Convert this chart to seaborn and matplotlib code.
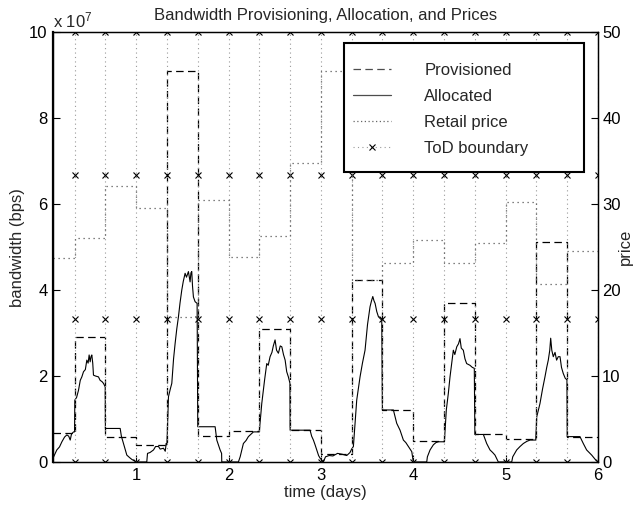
import numpy as np
import pandas as pd
import seaborn as sns
import matplotlib.pyplot as plt
from matplotlib.lines import Line2D
from matplotlib.patches import Rectangle

# time-of-day periods (8 hours each), start of each period in days
period_start = [0.1, 1/3, 2/3, 1.0, 4/3, 5/3, 2.0, 7/3, 8/3, 3.0,
                10/3, 11/3, 4.0, 13/3, 14/3, 5.0, 16/3, 17/3]
tod_boundary = [1/3, 2/3, 1.0, 4/3, 5/3, 2.0, 7/3, 8/3, 3.0,
                10/3, 11/3, 4.0, 13/3, 14/3, 5.0, 16/3, 17/3, 6.0]
tod_marks = [0, 50/3, 100/3, 50]

# provisioned bandwidth per period (x 1e7 bps)
provisioned = [0.68, 2.90, 0.57, 0.40, 9.10, 0.61, 0.72, 3.09, 0.74,
               0.18, 4.23, 1.21, 0.49, 3.70, 0.65, 0.53, 5.12, 0.59]
# retail price per period
retail_price = [23.7, 26.0, 32.1, 29.5, 16.9, 30.5, 23.8, 26.3, 34.8,
                45.5, 21.2, 23.2, 25.8, 23.1, 25.5, 30.2, 20.7, 24.6]

# allocated bandwidth (x 1e7 bps)
alloc_day = [0.100, 0.141, 0.170, 0.196, 0.225, 0.250, 0.270, 0.286, 0.300, 0.322, 0.333,
             0.336, 0.355, 0.376, 0.395, 0.412, 0.430, 0.450, 0.466, 0.480, 0.491, 0.502,
             0.511, 0.520, 0.530, 0.538, 0.560, 0.592, 0.610, 0.630, 0.646, 0.665, 0.667,
             0.700, 0.827, 0.840, 0.863, 0.880, 0.899, 0.930, 0.953, 1.000,
             1.115, 1.123, 1.150, 1.188, 1.210, 1.242, 1.260, 1.296, 1.315, 1.325, 1.333,
             1.350, 1.370, 1.386, 1.405, 1.422, 1.440, 1.458, 1.475, 1.494, 1.510, 1.530,
             1.545, 1.566, 1.584, 1.593, 1.602, 1.610, 1.620, 1.638, 1.660, 1.667,
             1.855, 1.873, 1.890, 1.909, 1.925, 1.927,
             2.107, 2.126, 2.161, 2.190, 2.215, 2.245, 2.270, 2.333,
             2.360, 2.390, 2.414, 2.430, 2.450, 2.470, 2.485, 2.504, 2.520, 2.540, 2.560,
             2.577, 2.595, 2.613, 2.630, 2.648, 2.665, 2.667,
             2.883, 2.900, 2.919, 2.937, 2.955, 2.975, 2.991, 3.027,
             3.050, 3.090, 3.130, 3.180, 3.230, 3.280, 3.315, 3.333,
             3.352, 3.370, 3.388, 3.424, 3.450, 3.478, 3.505, 3.532, 3.548, 3.562, 3.575,
             3.587, 3.605, 3.623, 3.659, 3.666,
             3.785, 3.821, 3.857, 3.893, 3.920, 3.947, 3.984, 4.001,
             4.146, 4.153, 4.182, 4.218, 4.245, 4.272, 4.337,
             4.358, 4.380, 4.398, 4.434, 4.450, 4.471, 4.490, 4.506, 4.520, 4.542, 4.560,
             4.578, 4.614, 4.640, 4.661, 4.667,
             4.759, 4.795, 4.831, 4.860, 4.885, 4.921,
             5.066, 5.077, 5.120, 5.156, 5.192, 5.230, 5.264, 5.326,
             5.337, 5.372, 5.400, 5.426, 5.445, 5.462, 5.478, 5.488, 5.500, 5.516, 5.535,
             5.552, 5.570, 5.589, 5.605, 5.624, 5.645, 5.664, 5.667,
             5.805, 5.841, 5.877, 5.905, 5.932, 5.970, 6.000]
alloc_bw = [0.09, 0.28, 0.35, 0.47, 0.58, 0.63, 0.60, 0.51, 0.65, 0.70, 0.70,
            1.44, 1.50, 1.67, 1.90, 1.98, 2.10, 2.15, 2.37, 2.30, 2.49, 2.33,
            2.45, 2.49, 2.30, 2.02, 2.00, 1.98, 1.90, 1.87, 1.83, 1.75, 0.78,
            0.78, 0.78, 0.60, 0.43, 0.30, 0.16, 0.10, 0.06, 0.00,
            0.00, 0.20, 0.22, 0.28, 0.36, 0.36, 0.30, 0.32, 0.25, 0.43, 0.40,
            1.52, 1.70, 1.83, 2.40, 2.76, 3.10, 3.38, 3.70, 4.00, 4.20, 4.39,
            4.30, 4.43, 4.19, 4.40, 4.43, 4.10, 3.84, 3.73, 3.69, 0.82,
            0.82, 0.51, 0.40, 0.28, 0.20, 0.00,
            0.00, 0.12, 0.43, 0.50, 0.59, 0.65, 0.70, 0.70,
            1.36, 1.90, 2.29, 2.25, 2.45, 2.55, 2.70, 2.84, 2.60, 2.53, 2.70,
            2.68, 2.50, 2.37, 2.10, 1.98, 1.83, 0.74,
            0.74, 0.60, 0.51, 0.40, 0.28, 0.15, 0.09, 0.00,
            0.12, 0.15, 0.14, 0.20, 0.18, 0.15, 0.22, 0.30,
            0.36, 0.90, 1.44, 1.98, 2.30, 2.60, 3.20, 3.61, 3.75, 3.85, 3.75,
            3.69, 3.50, 3.38, 3.30, 1.21,
            1.21, 0.90, 0.74, 0.51, 0.45, 0.36, 0.24, 0.00,
            0.00, 0.12, 0.28, 0.40, 0.45, 0.47, 0.47,
            1.21, 1.60, 1.98, 2.60, 2.50, 2.68, 2.75, 2.87, 2.65, 2.60, 2.40,
            2.29, 2.25, 2.20, 2.18, 0.64,
            0.64, 0.43, 0.28, 0.22, 0.16, 0.00,
            0.00, 0.12, 0.28, 0.36, 0.43, 0.48, 0.51, 0.51,
            1.05, 1.36, 1.70, 1.98, 2.20, 2.37, 2.60, 2.88, 2.60, 2.45, 2.55,
            2.37, 2.45, 2.45, 2.20, 2.06, 1.95, 1.91, 0.59,
            0.59, 0.43, 0.28, 0.22, 0.16, 0.06, 0.00]

sns.set_style('ticks')
plt.rcParams['font.family'] = ['Liberation Sans', 'DejaVu Sans']
plt.rcParams['mathtext.fontset'] = 'custom'
plt.rcParams['mathtext.rm'] = 'Liberation Sans'
plt.rcParams['font.size'] = 12

# step tables (last value held until the end of day 6)
step_day = period_start + [6.0]
prov_df = pd.DataFrame({'day': step_day, 'bw': provisioned + provisioned[-1:]})
price_df = pd.DataFrame({'day': step_day, 'price': retail_price + retail_price[-1:]})
alloc_df = pd.DataFrame({'day': alloc_day, 'bw': alloc_bw})
tod_df = pd.DataFrame({'day': np.repeat(tod_boundary, len(tod_marks)),
                       'price': tod_marks * len(tod_boundary),
                       'unit': np.repeat(np.arange(len(tod_boundary)), len(tod_marks))})

fig = plt.figure(figsize=(6.35, 5.08), dpi=100)
ax = fig.add_axes([0.0835, 0.0906, 0.8582, 0.846])
ax2 = ax.twinx()

sns.lineplot(data=prov_df, x='day', y='bw', ax=ax, estimator=None, sort=False,
             color='k', lw=0.9, dashes=False, linestyle=(0, (6, 3.5)),
             drawstyle='steps-post', legend=False)
sns.lineplot(data=alloc_df, x='day', y='bw', ax=ax, estimator=None, sort=False,
             color='k', lw=0.8, legend=False)

sns.lineplot(data=tod_df, x='day', y='price', units='unit', ax=ax2, estimator=None,
             sort=False, color='0.6', lw=0.8, linestyle=(0, (1, 3)),
             marker='x', markersize=4, markeredgecolor='k', markeredgewidth=0.8,
             legend=False)
sns.lineplot(data=price_df, x='day', y='price', ax=ax2, estimator=None, sort=False,
             color='0.35', lw=0.9, linestyle=(0, (1, 3)), drawstyle='steps-post',
             legend=False)

ax.set_xlim(0.1, 6.0)
ax.set_ylim(0, 10)
ax2.set_ylim(0, 50)
ax.set_xticks([1, 2, 3, 4, 5, 6])
ax.set_yticks([0, 2, 4, 6, 8, 10])
ax2.set_yticks([0, 10, 20, 30, 40, 50])

ax.tick_params(direction='in', length=5, width=0.8, labelsize=12, pad=4,
               top=False, colors='k')
ax2.tick_params(direction='in', length=5, width=0.8, labelsize=12, pad=3, colors='k')
for a in (ax, ax2):
    for s in a.spines.values():
        s.set_color('k')
        s.set_linewidth(0.9)
ax.spines['left'].set_linewidth(1.6)

ax.set_xlabel('time (days)', fontsize=12, labelpad=2)
ax.set_ylabel('bandwidth (bps)', fontsize=12, labelpad=3)
ax2.set_ylabel('price', fontsize=12, labelpad=-2)
ax.set_title('Bandwidth Provisioning, Allocation, and Prices', fontsize=12, pad=9)
ax.text(0.0, 1.012, r'x $\mathregular{10^7}$', transform=ax.transAxes,
        ha='left', va='baseline', fontsize=12)

# legend box
ax2.add_patch(Rectangle((0.534, 0.674), 0.44, 0.30, transform=ax2.transAxes,
                        facecolor='white', edgecolor='k', lw=1.5, zorder=5))
handles = [
    Line2D([], [], color='0.3', lw=0.9, linestyle=(0, (6, 3.5))),
    Line2D([], [], color='0.3', lw=0.9),
    Line2D([], [], color='0.4', lw=0.9, linestyle=(0, (1, 2))),
    Line2D([], [], color='0.6', lw=0.8, linestyle=(0, (1, 3)), marker='x',
           markersize=4, markeredgecolor='k', markeredgewidth=0.8),
]
labels = ['Provisioned', 'Allocated', 'Retail price', 'ToD boundary']
leg = ax2.legend(handles, labels, loc='upper left', bbox_to_anchor=(0.550, 0.929),
                 borderaxespad=0, borderpad=0, frameon=False, fontsize=12,
                 handlelength=2.3, handletextpad=2.0, labelspacing=0.66)
leg.set_zorder(6)

fig.savefig('out.png', dpi=100)
